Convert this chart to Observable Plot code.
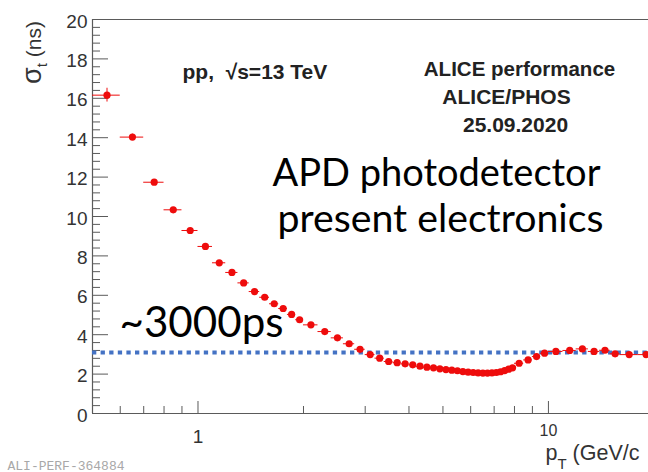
<!DOCTYPE html>
<html><head><meta charset="utf-8">
<script src="https://cdn.jsdelivr.net/npm/d3@7"></script>
<script src="https://cdn.jsdelivr.net/npm/@observablehq/plot@0.6"></script>
<style>html,body{margin:0;padding:0;background:#fff;} svg{display:block}</style>
</head><body><div id="chart"></div>
<script>
// ---- data ----
const pT = [0.55,0.65,0.75,0.85,0.95,1.05,1.15,1.25,1.35,1.45,1.55,1.65,1.75,1.85,1.95,
  2.1,2.3,2.5,2.7,2.9,3.1,3.3,3.5,3.7,3.9,4.1,4.3,4.5,4.7,4.9,5.1,5.3,5.5,5.7,5.9,
  6.1,6.3,6.5,6.7,6.9,7.1,7.3,7.5,7.7,7.9,
  8.25,8.75,9.25,9.75,10.5,11.5,12.5,13.5,14.5,15.5,17,19];
const pTErr = [0.05,0.05,0.05,0.05,0.05,0.05,0.05,0.05,0.05,0.05,0.05,0.05,0.05,0.05,0.05,
  0.1,0.1,0.1,0.1,0.1,0.1,0.1,0.1,0.1,0.1,0.1,0.1,0.1,0.1,0.1,0.1,0.1,0.1,0.1,0.1,
  0.1,0.1,0.1,0.1,0.1,0.1,0.1,0.1,0.1,0.1,
  0.25,0.25,0.25,0.25,0.5,0.5,0.5,0.5,0.5,0.5,1,1];
const sigmaT = [16.16,14.03,11.74,10.34,9.29,8.48,7.65,7.16,6.63,6.19,5.90,5.57,5.33,5.03,4.76,
  4.50,4.16,3.84,3.54,3.26,2.99,2.81,2.64,2.58,2.52,2.47,2.40,2.35,2.32,2.27,2.23,2.20,2.17,2.13,2.10,
  2.08,2.06,2.05,2.05,2.06,2.08,2.12,2.18,2.25,2.32,
  2.55,2.72,2.89,3.06,3.15,3.20,3.28,3.15,3.21,3.03,2.99,2.99];
const sigmaErr = [0.35,0.15,0.10,0.08,0.06,0.05,0.05,0.05,0.05,0.05,0.05,0.05,0.05,0.05,0.05,
  0.04,0.04,0.04,0.04,0.04,0.04,0.04,0.04,0.04,0.04,0.04,0.04,0.04,0.04,0.04,0.04,0.04,0.04,0.04,0.04,
  0.04,0.04,0.04,0.04,0.04,0.04,0.04,0.04,0.04,0.04,
  0.05,0.05,0.05,0.05,0.05,0.05,0.06,0.06,0.07,0.08,0.08,0.10];
const refLevel = [3.1];                       // ~3000 ps dotted line
const yMajorTicks = [0,2,4,6,8,10,12,14,16,18,20];
const yMinorTicks = d3.range(0, 20.001, 0.4).filter(v => Math.abs(v/2 - Math.round(v/2)) > 1e-6);
const xMajorTicks = [1, 10];
const xMajorLabels = ["1", "10"];
const xMinorTicks = [0.6,0.7,0.8,0.9,2,3,4,5,6,7,8,9];
const rootLabels = ["pp,  \u221As=13 TeV", "ALICE performance", "ALICE/PHOS", "25.09.2020"];
const slideLabels = ["APD photodetector", "present electronics", "~3000ps"];
const yTitle = "\u03C3t (ns)";
const xTitle = "pT (GeV/c";
const footer = "ALI-PERF-364884";

const rows = pT.map((x, i) => ({
  pT: x, lo: x - pTErr[i], hi: x + pTErr[i],
  s: sigmaT[i], sLo: sigmaT[i] - sigmaErr[i], sHi: sigmaT[i] + sigmaErr[i]
}));

// ---- layout / style ----
const W = 648, H = 472, mL = 92, mR = 0, mT = 19, mB = 59;
const innerW = W - mL - mR, innerH = H - mT - mB;
const ink = "#222", axisInk = "#5a5a5a", red = "#ee0c0c", blue = "#4472c4";
const helv = "'Liberation Sans', Arial, Helvetica, sans-serif";
const slideFont = "Lato, 'Open Sans', sans-serif";

function label(txt, px, py, o = {}) {
  return Plot.text([txt], {text: d => d, frameAnchor: "top-left", dx: px - mL, dy: py - mT,
    lineAnchor: "bottom", fill: ink, fontFamily: helv, ...o});
}

const chart = Plot.plot({
  width: W, height: H,
  marginLeft: mL, marginRight: mR, marginTop: mT, marginBottom: mB,
  style: {background: "#fff", fontFamily: helv},
  x: {type: "log", domain: [0.5, 19.3], axis: null},
  y: {domain: [0, 20], axis: null},
  marks: [
    // frame
    Plot.ruleY([0, 20], {stroke: axisInk, strokeWidth: 1.2}),
    Plot.ruleX([0.5], {stroke: axisInk, strokeWidth: 1.2}),
    // ticks (ROOT style, inside)
    Plot.ruleY(yMajorTicks, {stroke: axisInk, insetRight: innerW - 16}),
    Plot.ruleY(yMinorTicks, {stroke: axisInk, insetRight: innerW - 8}),
    Plot.ruleX(xMajorTicks, {stroke: axisInk, insetTop: innerH - 12}),
    Plot.ruleX(xMinorTicks, {stroke: axisInk, insetTop: innerH - 7}),
    // tick labels
    Plot.axisY({ticks: yMajorTicks, tickSize: 0, tickPadding: 5, fontSize: 19, fill: "#333", label: null, dy: 2, fontFamily: helv}),
    Plot.text([0], {x: () => xMajorTicks[0], text: () => xMajorLabels[0], frameAnchor: "bottom", dy: 29, lineAnchor: "bottom", fontSize: 19, fill: "#333", fontFamily: helv}),
    Plot.text([1], {x: () => xMajorTicks[1], text: () => xMajorLabels[1], frameAnchor: "bottom", dy: 22, lineAnchor: "bottom", fontSize: 16, fill: "#333", fontFamily: helv}),
    // reference level
    Plot.ruleY(refLevel, {stroke: blue, strokeWidth: 4, strokeDasharray: "4.3,4.3"}),
    // data
    Plot.ruleY(rows, {y: "s", x1: "lo", x2: "hi", stroke: red, strokeWidth: 1}),
    Plot.ruleX(rows, {x: "pT", y1: "sLo", y2: "sHi", stroke: red, strokeWidth: 1}),
    Plot.dot(rows, {x: "pT", y: "s", r: 3.6, fill: red, stroke: "none"}),
    // ROOT labels
    label(rootLabels[0], 182, 78, {textAnchor: "start", fontSize: 21, fontWeight: "bold"}),
    label(rootLabels[1], 519, 75, {textAnchor: "middle", fontSize: 20.5, fontWeight: "bold"}),
    label(rootLabels[2], 506, 103, {textAnchor: "middle", fontSize: 21, fontWeight: "bold"}),
    label(rootLabels[3], 515, 131, {textAnchor: "middle", fontSize: 21, fontWeight: "bold"}),
    // slide labels
    label(slideLabels[0], 436, 185, {textAnchor: "middle", fontSize: 38, fill: "#000", fontFamily: slideFont}),
    label(slideLabels[1], 440, 231, {textAnchor: "middle", fontSize: 38, fill: "#000", fontFamily: slideFont}),
    label(slideLabels[2], 119, 336, {textAnchor: "start", fontSize: 43, fill: "#000", fontFamily: slideFont}),
    // axis titles
    label(yTitle, 34, 52, {textAnchor: "middle", lineAnchor: "middle", rotate: -90, fontSize: 21, fill: "#333"}),
    label(xTitle, 545, 459, {textAnchor: "start", fontSize: 21.5, fill: "#333"}),
    label(footer, 7, 469, {textAnchor: "start", fontSize: 13, fill: "#a8a8a8", fontFamily: "'Liberation Mono', 'DejaVu Sans Mono', monospace"})
  ]
});

// post-processing: subscripts and exact text widths
const svg = d3.select(chart.tagName === "svg" ? chart : chart.querySelector("svg"));
function sub(full, base, s, rest, baseSize, subSize, shift) {
  svg.selectAll("text").filter(function() { return this.textContent === full; }).each(function() {
    const t = d3.select(this); t.text(null);
    t.append("tspan").attr("font-size", baseSize).text(base);
    t.append("tspan").attr("font-size", subSize).attr("dy", shift).text(s);
    t.append("tspan").attr("dy", -shift).text(rest);
  });
}
sub(yTitle, "\u03C3", "t", " (ns)", 27, 15, 6);
sub(xTitle, "p", "T", " (GeV/c", 21.5, 15, 9);
const targetWidths = {"APD photodetector": 328, "present electronics": 326, "~3000ps": 164};
svg.selectAll("text").each(function() {
  const w = targetWidths[this.textContent];
  if (w) d3.select(this).attr("textLength", w).attr("lengthAdjust", "spacingAndGlyphs");
});
document.getElementById("chart").append(chart);
</script>
</body></html>
